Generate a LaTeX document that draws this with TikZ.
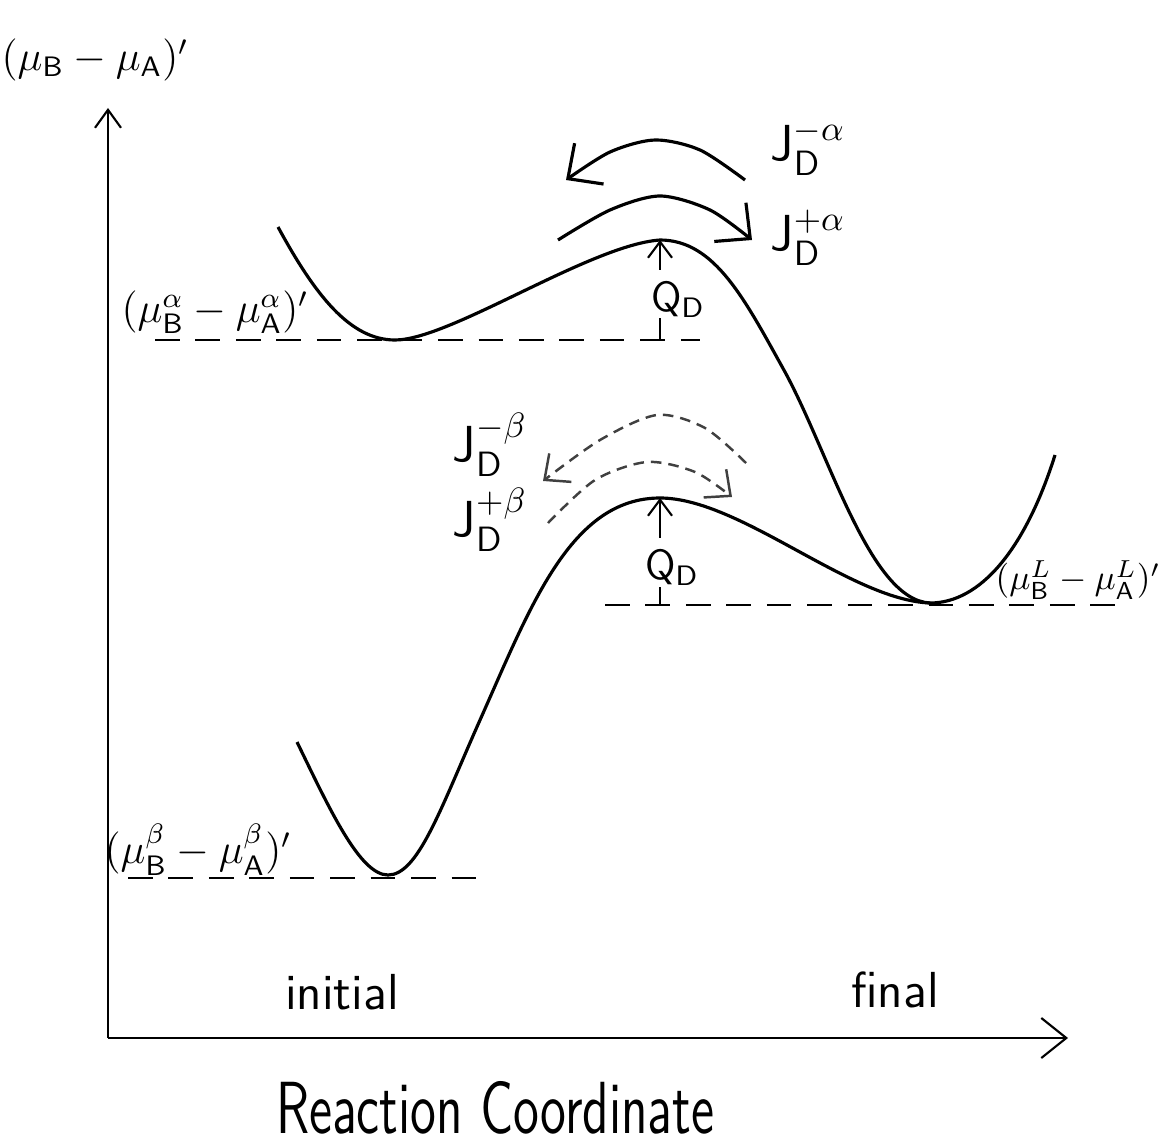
\documentclass[tikz,border=0pt]{standalone}
\usepackage{amsmath,amssymb}
\usepackage{graphicx}
\usepackage{tikz}
\usetikzlibrary{arrows.meta,calc}

\begin{document}
\begin{tikzpicture}[
  x=0.01cm, y=-0.01cm,
  every node/.style={font=\large},
  axis/.style   ={line width=0.6pt},
  curve/.style  ={line width=0.9pt},
  level/.style  ={line width=0.6pt, dash pattern=on 7pt off 4.5pt},
  flux/.style   ={line width=0.9pt, -{Straight Barb[length=2.6mm,width=5mm]}},
  fluxb/.style  ={line width=0.7pt, densely dashed, draw=black!75,
                  -{Straight Barb[length=2mm,width=3.6mm]}},
  qarr/.style   ={line width=0.6pt, -{Straight Barb[length=1.6mm,width=2.4mm]}},
  jlbl/.style   ={font=\Large},
]
  \useasboundingbox (0,0) rectangle (1171,1146);

  % axes
  \coordinate (O)    at (108,1038);
  \coordinate (ytip) at (108,108);
  \coordinate (xtip) at (1068,1038);
  \draw[axis, -{Straight Barb[length=1.8mm,width=2.6mm]}] (O) -- (ytip);
  \draw[axis, -{Straight Barb[length=2.5mm,width=4mm]}] (O) -- (xtip);
  \node (ylab) at (95,60) {$(\mu_{\mathsf B}-\mu_{\mathsf A})^{\prime}$};

  % activation barriers
  \coordinate (peakA) at (660,240);
  \coordinate (baseA) at (660,340);
  \coordinate (peakB) at (660,498);
  \coordinate (baseB) at (660,605);
  \coordinate (minL)  at (930,603);

  % free-energy curves
  \draw[curve] (278,227) .. controls (315,295) and (350,340) .. (395,340)
    .. controls (450,340) and (590,245) .. (peakA)
    .. controls (715,240) and (745,300) .. (785,372)
    .. controls (830,455) and (870,600) .. (minL);
  \draw[curve] (297,742) .. controls (330,810) and (360,875) .. (388,875)
    .. controls (418,875) and (440,810) .. (480,720)
    .. controls (530,608) and (570,498) .. (peakB)
    .. controls (740,498) and (850,600) .. (minL);
  \draw[curve] (minL) .. controls (980,603) and (1025,550) .. (1055,455);

  % reference levels
  \draw[level] (155,340) -- (700,340);
  \draw[level] (605,605) -- (1125,605);
  \draw[level] (128,878) -- (485,878);

  \node (muA) at (215,312) {$(\mu_{\mathsf B}^{\alpha}-\mu_{\mathsf A}^{\alpha})^{\prime}$};
  \node (muB) at (198,850) {$(\mu_{\mathsf B}^{\beta}-\mu_{\mathsf A}^{\beta})^{\prime}$};
  \node[font=\normalsize] (muL) at (1078,580) {$(\mu_{\mathsf B}^{L}-\mu_{\mathsf A}^{L})^{\prime}$};

  \node (qA) at (678,300) {$\mathsf{Q}_{\mathsf D}$};
  \node (qB) at (672,568) {$\mathsf{Q}_{\mathsf D}$};
  \draw[qarr] (qA.north -| peakA) -- (peakA);
  \draw[line width=0.6pt] (baseA) -- ++(0,-22);
  \draw[qarr] (qB.north -| peakB) -- (peakB);
  \draw[line width=0.6pt] (baseB) -- ++(0,-18);

  % fluxes over the barriers
  \draw[flux] plot[smooth] coordinates {(745,180) (700,150) (655,140) (610,152) (566,180)};
  \draw[flux] plot[smooth] coordinates {(558,240) (610,210) (660,196) (710,210) (752,240)};
  \node[jlbl] (jmA) at (808,148) {$\mathsf{J}_{\mathsf D}^{-\alpha}$};
  \node[jlbl] (jpA) at (808,238) {$\mathsf{J}_{\mathsf D}^{+\alpha}$};

  \draw[fluxb] plot[smooth] coordinates {(746,463) (705,428) (657,415) (600,440) (543,481)};
  \draw[fluxb] plot[smooth] coordinates {(548,523) (595,480) (647,462) (695,472) (732,497)};
  \node[jlbl] (jmB) at (490,445) {$\mathsf{J}_{\mathsf D}^{-\beta}$};
  \node[jlbl] (jpB) at (490,520) {$\mathsf{J}_{\mathsf D}^{+\beta}$};

  % states
  \node[font=\Large\sffamily] (ini) at (342,992) {initial};
  \node[font=\Large\sffamily] (fin) at (895,990) {final};
  \node[font=\fontsize{15}{18}\selectfont\sffamily] (rc) at (495,1108)
    {\scalebox{1}[1.4]{Reaction Coordinate}};
\end{tikzpicture}
\end{document}
